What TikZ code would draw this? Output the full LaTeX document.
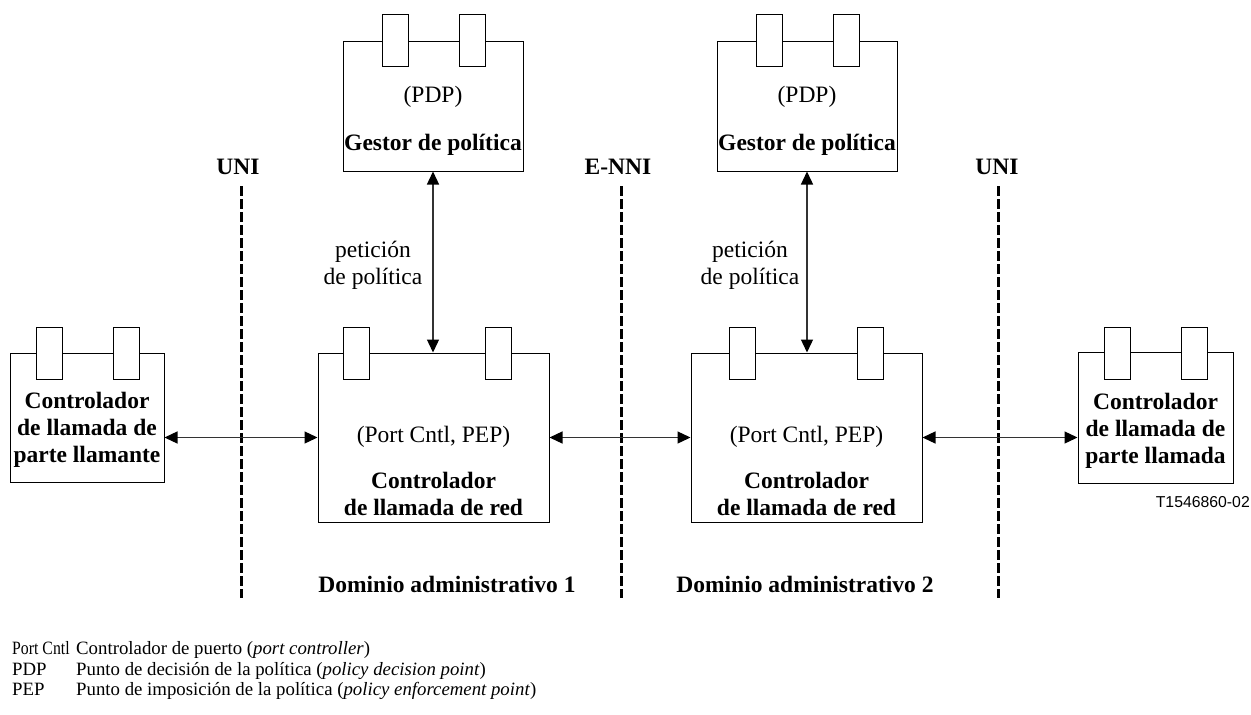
\documentclass[tikz,border=0pt]{standalone}
\usepackage{fontspec}
\setmainfont{Liberation Serif}
\newfontfamily\labelsans{Liberation Sans}
\usetikzlibrary{arrows.meta}
\begin{document}
\begin{tikzpicture}[x=1pt,y=-1pt,
  box/.style={draw=black, line width=1pt, fill=white, inner sep=0pt},
  tab/.style={draw=black, line width=1pt, fill=white, minimum width=26pt,
              minimum height=52pt, inner sep=0pt},
  txt/.style={font=\fontsize{23.5}{27}\selectfont, align=center, inner sep=0pt},
  txtb/.style={font=\fontsize{23.5}{27}\selectfont\bfseries, align=center, inner sep=0pt},
  legend/.style={font=\fontsize{18.8}{20.5}\selectfont, anchor=mid west, inner sep=0pt},
  iface/.style={draw=black, line width=3pt, dash pattern=on 10pt off 3pt},
  conn/.style={draw=black!80, line width=1.3pt,
               {Triangle[length=13pt,width=12pt,color=black]}-{Triangle[length=13pt,width=12pt,color=black]}},
]
\useasboundingbox (0,0) rectangle (1251,715);

% interface boundaries
\coordinate (uniLtop) at (241,186);  \coordinate (uniLbot) at (241,598);
\coordinate (enniTop) at (621,186);  \coordinate (enniBot) at (621,598);
\coordinate (uniRtop) at (998,186);  \coordinate (uniRbot) at (998,598);
\draw[iface] (uniLtop) -- (uniLbot);
\draw[iface] (enniTop) -- (enniBot);
\draw[iface] (uniRtop) -- (uniRbot);
\node[txtb] (uniL) at (238,167) {UNI};
\node[txtb] (enni) at (618,167) {E-NNI};
\node[txtb] (uniR) at (997,167) {UNI};

% calling party call controller
\node[box, minimum width=154pt, minimum height=129pt] (caller) at (87,417.5) {};
\node[tab] (callerT1) at (49,353) {};
\node[tab] (callerT2) at (126,353) {};
\node[txtb] (callerL) at (87,430) {Controlador\\de llamada de\\parte llamante};

% policy managers
\node[box, minimum width=180pt, minimum height=130pt] (pdp1) at (433,106) {};
\node[tab] (pdp1T1) at (395,40) {};
\node[tab] (pdp1T2) at (472,40) {};
\node[txt] (pdp1A) at (433,97) {(PDP)};
\node[txtb] (pdp1B) at (433,145) {Gestor de política};

\node[box, minimum width=180pt, minimum height=130pt] (pdp2) at (807,106) {};
\node[tab] (pdp2T1) at (769,40) {};
\node[tab] (pdp2T2) at (846,40) {};
\node[txt] (pdp2A) at (807,97) {(PDP)};
\node[txtb] (pdp2B) at (807,145) {Gestor de política};

% network call controllers
\node[box, minimum width=231pt, minimum height=169pt] (net1) at (433.5,437.5) {};
\node[tab] (net1T1) at (356,353) {};
\node[tab] (net1T2) at (498,353) {};
\node[txt] (net1A) at (433.5,437) {(Port Cntl, PEP)};
\node[txtb] (net1B) at (433.5,493.5) {Controlador\\de llamada de red};

\node[box, minimum width=231pt, minimum height=169pt] (net2) at (806.5,437.5) {};
\node[tab] (net2T1) at (742,353) {};
\node[tab] (net2T2) at (870,353) {};
\node[txt] (net2A) at (806.5,437) {(Port Cntl, PEP)};
\node[txtb] (net2B) at (806.5,493.5) {Controlador\\de llamada de red};

% called party call controller
\node[box, minimum width=155pt, minimum height=131pt] (called) at (1155.5,417.5) {};
\node[tab] (calledT1) at (1117,353) {};
\node[tab] (calledT2) at (1194.5,353) {};
\node[txtb] (calledL) at (1155.5,431) {Controlador\\de llamada de\\parte llamada};

% signalling
\draw[conn] (caller.east |- net1.center) -- (net1.west);
\draw[conn] (net1.east) -- (net2.west);
\draw[conn] (net2.east) -- (called.west |- net2.center);
\draw[conn] (pdp1.south) -- (net1.north -| pdp1.south);
\draw[conn] (pdp2.south) -- (net2.north -| pdp2.south);
\node[txt] (req1) at (373,265.5) {petición\\de política};
\node[txt] (req2) at (750,265.5) {petición\\de política};

% administrative domains
\node[txtb] (dom1) at (447,584) {Dominio administrativo 1};
\node[txtb] (dom2) at (805,584) {Dominio administrativo 2};

\node[font=\labelsans\fontsize{15.8}{18}\selectfont, anchor=east, inner sep=0pt] (ref) at (1250,502) {T1546860-02};

% abbreviations
\node[legend] (k1) at (12,652) {\scalebox{0.84}[1]{Port Cntl}};
\node[legend] (k2) at (12,673) {PDP};
\node[legend] (k3) at (12,693) {PEP};
\node[legend] (v1) at (76,652) {Controlador de puerto (\textit{port controller})};
\node[legend] (v2) at (76,673) {Punto de decisión de la política (\textit{policy decision point})};
\node[legend] (v3) at (76,693) {Punto de imposición de la política (\textit{policy enforcement point})};
\end{tikzpicture}
\end{document}
